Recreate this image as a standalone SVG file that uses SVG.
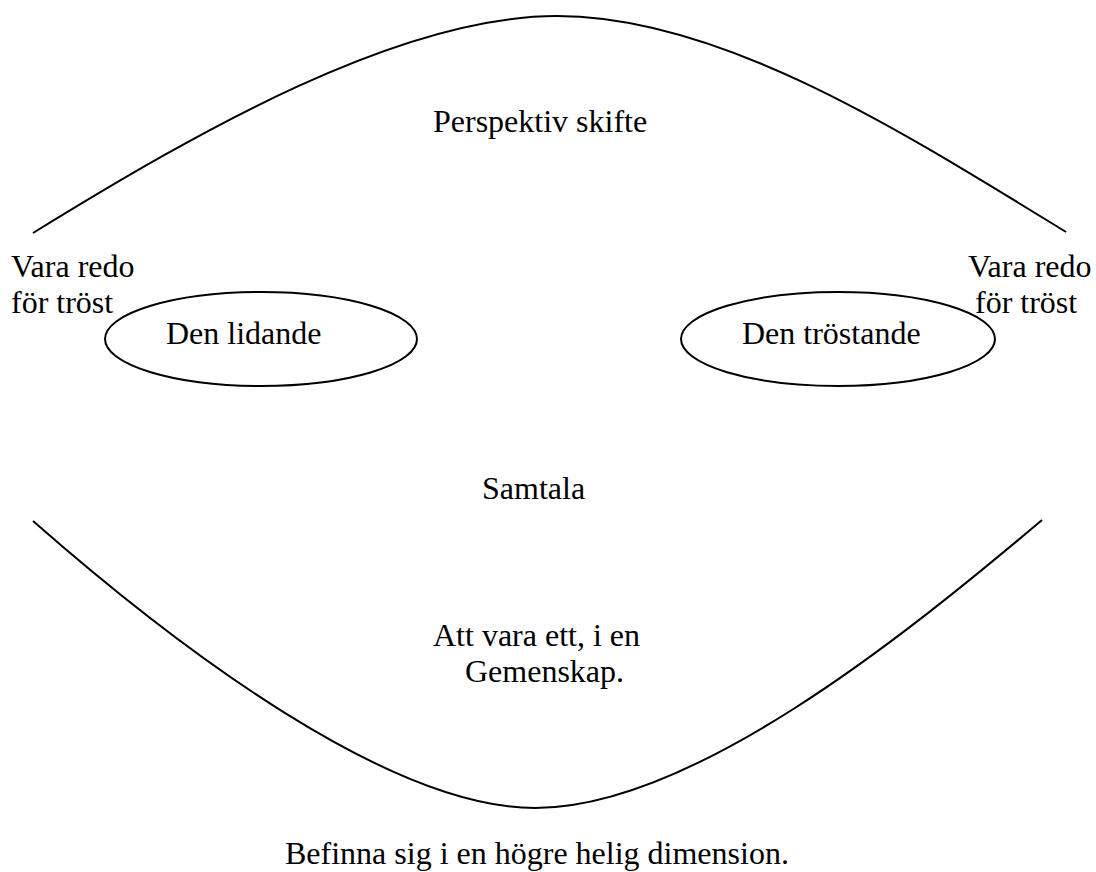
<svg xmlns="http://www.w3.org/2000/svg" width="1096" height="872" viewBox="0 0 1096 872">
<style>
.t{font-family:"Liberation Serif","Times New Roman",serif;font-size:32px;fill:#000}
.c{fill:none;stroke:#000;stroke-width:2}
.e{fill:#fff;stroke:#000;stroke-width:2}
</style>
<rect width="1096" height="872" fill="#fff"/>
<g id="connectors">
<path class="c" d="M33,233 C200,130 400,16 557,16 C720,16 900,130 1066,232"/>
<path class="c" d="M33,521 C180,650 390,808 535,808 C690,808 900,640 1042,520"/>
</g>
<g id="perspektiv"><text class="t" x="433" y="132">Perspektiv skifte</text></g>
<g id="redo-left"><text class="t" x="11" y="277">Vara redo</text><text class="t" x="11" y="313">för tröst</text></g>
<g id="lidande"><ellipse class="e" cx="261" cy="339" rx="156" ry="47"/><text class="t" x="166" y="344">Den lidande</text></g>
<g id="trostande"><ellipse class="e" cx="838" cy="339" rx="157" ry="47"/><text class="t" x="742" y="344">Den tröstande</text></g>
<g id="redo-right"><text class="t" x="968" y="277">Vara redo</text><text class="t" x="975" y="313">för tröst</text></g>
<g id="samtala"><text class="t" x="482" y="499">Samtala</text></g>
<g id="gemenskap"><text class="t" x="433" y="646">Att vara ett, i en</text><text class="t" x="465" y="682">Gemenskap.</text></g>
<g id="dimension"><text class="t" x="285" y="864">Befinna sig i en högre helig dimension.</text></g>
</svg>
